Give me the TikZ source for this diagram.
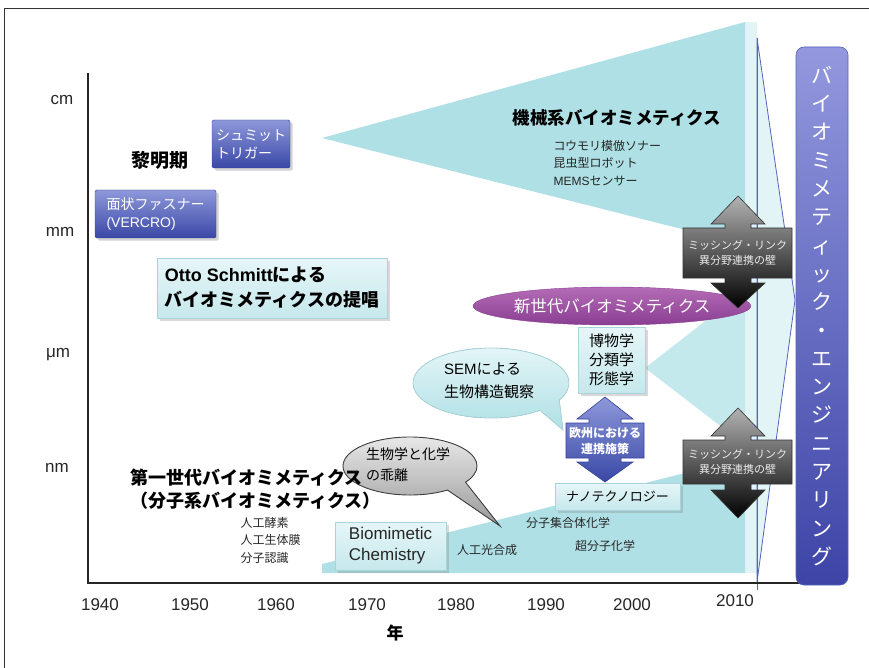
\documentclass[tikz,border=0pt]{standalone}
\usepackage{fontspec}
\setmainfont{Liberation Sans}
\newfontfamily\jp{Noto Sans CJK JP}
\usetikzlibrary{shadows,shapes.geometric}
\definecolor{cyanA}{HTML}{AFE0E5}
\definecolor{cyanB}{HTML}{C4E9EC}
\definecolor{paleC}{HTML}{E2F4F6}
\definecolor{boxtop}{HTML}{E6F6F8}
\definecolor{boxbot}{HTML}{C6E8EC}
\definecolor{boxline}{HTML}{A8D4DA}
\definecolor{bluetop}{HTML}{8E98DA}
\definecolor{bluebot}{HTML}{3A48A6}
\definecolor{blueline}{HTML}{34429A}
\definecolor{purptop}{HTML}{B46CB6}
\definecolor{purpbot}{HTML}{8A3E92}
\definecolor{chevline}{HTML}{5464BC}
\definecolor{engtop}{HTML}{9398DE}
\definecolor{engbot}{HTML}{3D44A6}
\begin{document}
\begin{tikzpicture}[x=1pt,y=-1pt,
  bluebox/.style={draw=blueline, top color=bluetop, bottom color=bluebot, text=white,
    align=left, font=\jp\fontsize{14}{18}\selectfont, inner sep=3pt, rounded corners=1.5pt,
    drop shadow={opacity=0.35}},
  cyanbox/.style={draw=boxline, top color=boxtop, bottom color=boxbot, text=black,
    inner sep=3pt, drop shadow={opacity=0.3}},
  axlabel/.style={font=\fontsize{17}{20}\selectfont, text=black!85},
  yearlabel/.style={font=\fontsize{17}{20}\selectfont, text=black!85},
  smalltext/.style={font=\jp\fontsize{12}{17.5}\selectfont, align=left, text=black!85},
  linkarrow/.style={draw=black!80, top color=black!30, bottom color=black, line width=0.6pt},
  linktext/.style={font=\jp\fontsize{11}{14.5}\selectfont, text=black!8, align=center},
  plain/.style={inner sep=0pt}
]
\useasboundingbox (0,0) rectangle (869,668);
% frame
\draw[black!80, line width=0.8pt] (4,668) -- (4,8) -- (869,8);

% cyan background shapes
\fill[paleC] (745,22) rectangle (757,573);
\fill[cyanA] (322,138) -- (745,22) -- (745,245) -- cycle;
\fill[cyanB] (645,368) -- (745,290) -- (745,445) -- cycle;
\fill[cyanA] (322,564) -- (745,458) -- (745,573) -- (322,573) -- cycle;
\filldraw[fill=paleC, draw=chevline, line width=0.8pt] (757,38) -- (795,300) -- (757,582) -- cycle;
\draw[chevline, line width=0.8pt] (757,38) -- (757,590);

% axes
\draw[black!85, line width=1.8pt] (88,73) -- (88,583) -- (815,583);
\node[axlabel] (lcm) at (62,100) {cm};
\node[axlabel] (lmm) at (60,232) {mm};
\node[axlabel] (lum) at (58,355) {μm};
\node[axlabel] (lnm) at (57,468) {nm};
\node[yearlabel] (y1940) at (100,605) {1940};
\node[yearlabel] (y1950) at (190,605) {1950};
\node[yearlabel] (y1960) at (276,605) {1960};
\node[yearlabel] (y1970) at (367,605) {1970};
\node[yearlabel] (y1980) at (456,605) {1980};
\node[yearlabel] (y1990) at (546,605) {1990};
\node[yearlabel] (y2000) at (632,605) {2000};
\node[yearlabel] (y2010) at (735,601) {2010};
\node[font=\jp\bfseries\fontsize{17}{20}\selectfont] (nen) at (395,633) {年};

% early boxes
\node[bluebox, minimum width=121pt, minimum height=48pt] (velcro) at (155.5,214) {面状ファスナー\\{\rmfamily(VERCRO)}};
\node[bluebox, minimum width=78pt, minimum height=48pt] (trigger) at (251,144) {シュミット\\トリガー};
\node[font=\jp\bfseries\fontsize{19}{22}\selectfont] (reimei) at (160,160) {黎明期};
\node[cyanbox, minimum width=230pt, minimum height=60pt, align=left,
  font=\jp\bfseries\fontsize{18}{25}\selectfont] (otto) at (272,288) {{\rmfamily\bfseries Otto Schmitt}による\\バイオミメティクスの提唱};

% mechanical
\node[font=\jp\bfseries\fontsize{17.5}{20}\selectfont] (kikai) at (617,118) {機械系バイオミメティクス};
\node[smalltext, anchor=west] (kikailist) at (550,163) {コウモリ模倣ソナー\\昆虫型ロボット\\{\rmfamily MEMS}センサー};

% new generation
\node[ellipse, draw=purpbot, top color=purptop, bottom color=purpbot, minimum width=230pt,
  minimum height=38pt, inner sep=0pt, text=white, font=\jp\fontsize{16.5}{20}\selectfont] (shinsedai) at (612,306) {新世代バイオミメティクス};
\node[cyanbox, minimum width=67pt, minimum height=66pt, align=center,
  font=\jp\fontsize{15}{19}\selectfont] (hakubutsu) at (611.5,360) {博物学\\分類学\\形態学};

% SEM bubble
\filldraw[draw=boxline, top color=boxtop, bottom color=cyanA, line width=0.8pt]
  (491,383) ++(51:78 and 35) arc[start angle=51, end angle=389, x radius=78, y radius=35] -- (563,430) -- cycle;
\node[align=left, font=\jp\fontsize{15}{23}\selectfont] (sem) at (489,381) {{\rmfamily SEM}による\\生物構造観察};

% separation bubble
\filldraw[draw=black!75, top color=black!8, bottom color=black!40, line width=0.9pt]
  (410,466) ++(56:67 and 29) arc[start angle=56, end angle=394, x radius=67, y radius=29] -- (500,526) -- cycle;
\node[align=left, font=\jp\fontsize{14}{21}\selectfont] (kairi) at (408,465) {生物学と化学\\の乖離};

% blue double arrow
\draw[draw=blueline, top color=bluetop, bottom color=bluebot, line width=0.6pt]
  (605,397) -- (633,419) -- (621,419) -- (621,423) -- (644,423) -- (644,458) -- (621,458) -- (621,462) -- (633,462)
  -- (605,482) -- (577,462) -- (589,462) -- (589,458) -- (566,458) -- (566,423) -- (589,423) -- (589,419) -- (577,419) -- cycle;
\node[align=center, text=white, font=\jp\bfseries\fontsize{12}{16}\selectfont] (oshu) at (605,440.5) {欧州における\\連携施策};

\node[cyanbox, minimum width=125pt, minimum height=27pt, font=\jp\fontsize{13}{16}\selectfont] (nano) at (617.5,496.5) {ナノテクノロジー};

% missing link arrows
\draw[linkarrow] (738,196) -- (765,224) -- (751,224) -- (751,228) -- (792,228) -- (792,278) -- (751,278) -- (751,283)
  -- (765,283) -- (738,308) -- (711,283) -- (725,283) -- (725,278) -- (683,278) -- (683,228) -- (725,228) -- (725,224) -- (711,224) -- cycle;
\node[linktext] (link1) at (737.5,253) {ミッシング・リンク\\異分野連携の壁};
\draw[linkarrow] (738,408) -- (765,436) -- (751,436) -- (751,440) -- (792,440) -- (792,484) -- (751,484) -- (751,490)
  -- (765,490) -- (738,518) -- (711,490) -- (725,490) -- (725,484) -- (683,484) -- (683,440) -- (725,440) -- (725,436) -- (711,436) -- cycle;
\node[linktext] (link2) at (737.5,462) {ミッシング・リンク\\異分野連携の壁};

% first generation
\node[anchor=west, align=left, font=\jp\bfseries\fontsize{18}{22.5}\selectfont] (daiichi) at (127,489) {第一世代バイオミメティクス\\（分子系バイオミメティクス）};
\node[smalltext, anchor=west] (jinko) at (237,540) {人工酵素\\人工生体膜\\分子認識};
\node[cyanbox, minimum width=111pt, minimum height=48pt, align=left, text=black!85,
  font=\fontsize{17}{21}\selectfont] (biochem) at (390.5,546) {Biomimetic\\Chemistry};
\node[smalltext] (kogosei) at (487,550) {人工光合成};
\node[smalltext] (shugo) at (568,523) {分子集合体化学};
\node[smalltext] (chobunshi) at (605,546) {超分子化学};

% right engineering box
\draw[draw=chevline, top color=engtop, bottom color=engbot, rounded corners=8pt, line width=0.6pt]
  (796,47) rectangle (848,585);
\node[align=center, text=white, font=\jp\fontsize{21}{28.3}\selectfont] (eng) at (822,316)
  {バ\\イ\\オ\\ミ\\メ\\テ\\ィ\\ッ\\ク\\・\\エ\\ン\\ジ\\ニ\\ア\\リ\\ン\\グ};
\end{tikzpicture}
\end{document}
